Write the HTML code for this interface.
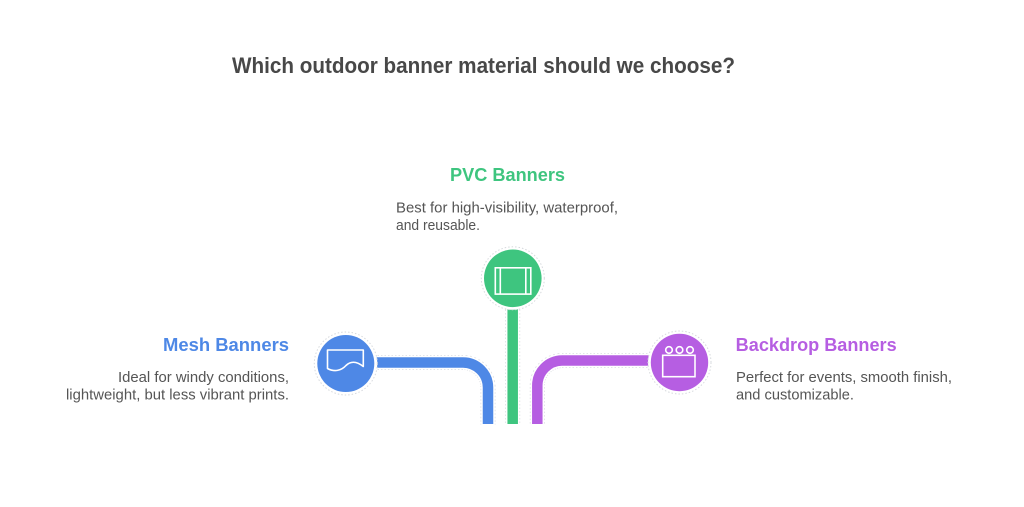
<!DOCTYPE html>
<html>
<head>
<meta charset="utf-8">
<style>
  html, body { margin: 0; padding: 0; background: #ffffff; }
  body { width: 1024px; height: 507px; overflow: hidden; }
  svg { display: block; }
  text { font-family: "Liberation Sans", Arial, sans-serif; }
</style>
</head>
<body>
<svg width="1024" height="507" viewBox="0 0 1024 507" xmlns="http://www.w3.org/2000/svg">
  <rect width="1024" height="507" fill="#ffffff"/>

  <!-- Title -->
  <text x="232" y="73" font-size="22.5" font-weight="bold" fill="#484848" textLength="503" lengthAdjust="spacingAndGlyphs">Which outdoor banner material should we choose?</text>

  <!-- Connectors: faint outline -->
  <g fill="none" stroke="#d9dce0" stroke-width="15" stroke-dasharray="1.5 2">
    <path d="M 374 362.5 H 463 A 25 25 0 0 1 488 387.5 V 424.5"/>
    <path d="M 512.7 306 V 424.5"/>
    <path d="M 651 360.5 H 562 A 25 25 0 0 0 537.3 385.5 V 424.5"/>
  </g>
  <g fill="none" stroke="#ffffff" stroke-width="13.5">
    <path d="M 374 362.5 H 463 A 25 25 0 0 1 488 387.5 V 424.5"/>
    <path d="M 512.7 306 V 424.5"/>
    <path d="M 651 360.5 H 562 A 25 25 0 0 0 537.3 385.5 V 424.5"/>
  </g>
  <g fill="none" stroke-width="10.5">
    <path d="M 374 362.5 H 463 A 25 25 0 0 1 488 387.5 V 424" stroke="#4e88e6"/>
    <path d="M 512.7 306 V 424" stroke="#3ec57f"/>
    <path d="M 651 360.5 H 562 A 25 25 0 0 0 537.3 385.5 V 424" stroke="#b65ee2"/>
  </g>

  <!-- Circles -->
  <g>
    <circle cx="345.8" cy="363.5" r="31.5" fill="#ffffff" stroke="#d6d9dd" stroke-width="1" stroke-dasharray="1.5 2"/>
    <circle cx="345.8" cy="363.5" r="28.5" fill="#4e88e6"/>

    <circle cx="512.8" cy="278.3" r="31.5" fill="#ffffff" stroke="#d6d9dd" stroke-width="1" stroke-dasharray="1.5 2"/>
    <circle cx="512.8" cy="278.3" r="28.8" fill="#3ec57f"/>

    <circle cx="679.5" cy="362.5" r="31.5" fill="#ffffff" stroke="#d6d9dd" stroke-width="1" stroke-dasharray="1.5 2"/>
    <circle cx="679.5" cy="362.5" r="28.7" fill="#b65ee2"/>
  </g>

  <!-- Icons -->
  <path d="M 327.5 350 H 363.3 V 366.5 C 356 360.5, 350 361.5, 346 365.5 C 341 371, 334 372, 327.5 368.5 Z" fill="none" stroke="#ffffff" stroke-width="1.6" stroke-linejoin="round"/>
  <g fill="none" stroke="#ffffff" stroke-width="1.6">
    <rect x="495.3" y="267.8" width="35.5" height="26.3"/>
    <line x1="500.3" y1="267.8" x2="500.3" y2="294.1"/>
    <line x1="525.8" y1="267.8" x2="525.8" y2="294.1"/>
  </g>
  <g fill="none" stroke="#ffffff" stroke-width="1.6">
    <rect x="662.7" y="355.3" width="32.3" height="21.4"/>
    <circle cx="669" cy="350" r="3.3"/>
    <circle cx="679.5" cy="350" r="3.3"/>
    <circle cx="690" cy="350" r="3.3"/>
  </g>

  <!-- PVC labels -->
  <text x="450" y="181" font-size="18" font-weight="bold" fill="#3ec57f" textLength="115" lengthAdjust="spacingAndGlyphs">PVC Banners</text>
  <text x="396" y="212.3" font-size="14.5" fill="#555555" textLength="222" lengthAdjust="spacingAndGlyphs">Best for high-visibility, waterproof,</text>
  <text x="396" y="230" font-size="14.5" fill="#555555" textLength="84" lengthAdjust="spacingAndGlyphs">and reusable.</text>

  <!-- Mesh labels -->
  <text x="163" y="351" font-size="18" font-weight="bold" fill="#4e88e6" textLength="126" lengthAdjust="spacingAndGlyphs">Mesh Banners</text>
  <text x="118" y="382" font-size="14.5" fill="#555555" textLength="171" lengthAdjust="spacingAndGlyphs">Ideal for windy conditions,</text>
  <text x="66" y="399.5" font-size="14.5" fill="#555555" textLength="223" lengthAdjust="spacingAndGlyphs">lightweight, but less vibrant prints.</text>

  <!-- Backdrop labels -->
  <text x="735.7" y="351" font-size="18" font-weight="bold" fill="#b65ee2" textLength="161" lengthAdjust="spacingAndGlyphs">Backdrop Banners</text>
  <text x="736" y="382" font-size="14.5" fill="#555555" textLength="216" lengthAdjust="spacingAndGlyphs">Perfect for events, smooth finish,</text>
  <text x="736" y="399.5" font-size="14.5" fill="#555555" textLength="118" lengthAdjust="spacingAndGlyphs">and customizable.</text>
</svg>
</body>
</html>
